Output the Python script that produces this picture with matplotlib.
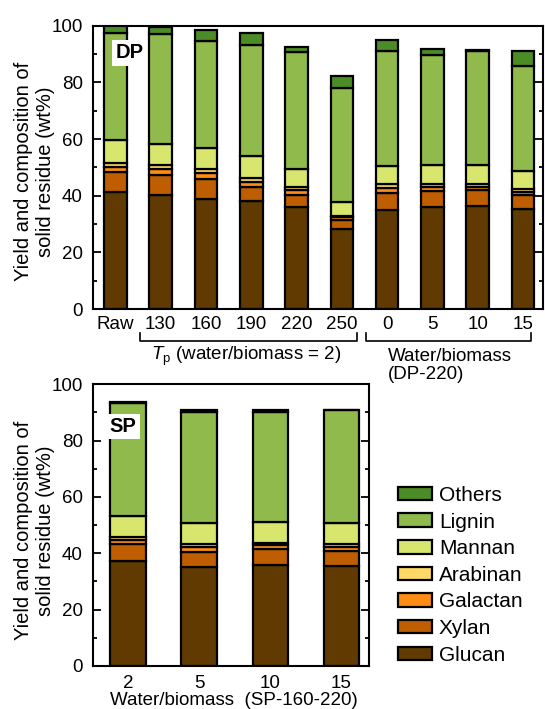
import matplotlib
matplotlib.use("Agg")
import matplotlib.pyplot as plt
import matplotlib.transforms as mtransforms
import numpy as np

plt.rcParams['font.family'] = ['Liberation Sans', 'DejaVu Sans']
plt.rcParams['mathtext.fontset'] = 'custom'
plt.rcParams['mathtext.rm'] = 'Liberation Sans'
plt.rcParams['mathtext.it'] = 'Liberation Sans:italic'
plt.rcParams['font.size'] = 13.5

components = ['Glucan', 'Xylan', 'Galactan', 'Arabinan', 'Mannan', 'Lignin', 'Others']
colors = ['#603A00', '#BE5E00', '#FF8C14', '#FFD966', '#D9E66E', '#90BA4C', '#4B8C26']

# Top panel (DP)
dp_labels = ['Raw', '130', '160', '190', '220', '250', '0', '5', '10', '15']
dp_glucan   = [41.4, 40.2, 38.8, 38.1, 35.9, 28.1, 34.9, 36.0, 36.4, 35.2]
dp_xylan    = [7.1, 7.1, 7.1, 5.1, 4.4, 3.4, 6.2, 5.7, 5.5, 5.0]
dp_galactan = [1.7, 2.1, 2.0, 1.7, 1.6, 0.9, 1.7, 1.4, 1.3, 1.2]
dp_arabinan = [1.2, 1.4, 1.4, 1.4, 1.1, 0.5, 1.2, 1.1, 1.0, 1.1]
dp_mannan   = [8.3, 7.4, 7.6, 7.6, 6.4, 4.7, 6.5, 6.7, 6.5, 6.2]
dp_lignin   = [37.6, 39.0, 37.7, 39.4, 41.4, 40.4, 40.5, 38.8, 40.5, 37.0]
dp_others   = [2.8, 2.5, 3.8, 4.2, 1.6, 4.1, 4.0, 2.1, 0.3, 5.3]

# Bottom panel (SP)
sp_labels = ['2', '5', '10', '15']
sp_glucan   = [37.3, 35.3, 35.9, 35.4]
sp_xylan    = [6.0, 5.2, 5.5, 5.4]
sp_galactan = [1.4, 1.6, 1.6, 1.5]
sp_arabinan = [1.2, 1.1, 0.8, 1.0]
sp_mannan   = [7.3, 7.6, 7.3, 7.5]
sp_lignin   = [40.0, 39.4, 39.1, 40.1]
sp_others   = [0.4, 0.8, 0.8, 0.1]

dp_series = [dp_glucan, dp_xylan, dp_galactan, dp_arabinan, dp_mannan, dp_lignin, dp_others]
sp_series = [sp_glucan, sp_xylan, sp_galactan, sp_arabinan, sp_mannan, sp_lignin, sp_others]

fig = plt.figure(figsize=(5.45, 7.09), dpi=100)
W, H = 545, 709
ax1 = fig.add_axes([92.7 / W, 1 - 309 / H, (543 - 92.7) / W, (309 - 25.7) / H])
ax2 = fig.add_axes([92.7 / W, 1 - 666 / H, (369 - 92.7) / W, (666 - 384.3) / H])


def stack(ax, labels, series):
    x = np.arange(len(labels))
    bottom = np.zeros(len(labels))
    handles = []
    for name, vals, c in zip(components, series, colors):
        vals = np.array(vals)
        h = ax.bar(x, vals, 0.5, bottom=bottom, color=c, edgecolor='black',
                   linewidth=1.6, label=name, zorder=2)
        handles.append(h)
        bottom += vals
    return x, handles


def style(ax, xlim, labels, pad, lab_x, lab_y):
    ax.set_ylim(0, 100)
    ax.set_xlim(*xlim)
    ax.set_yticks(np.arange(0, 101, 20))
    ax.set_yticks(np.arange(10, 100, 20), minor=True)
    ax.tick_params(axis='y', which='both', direction='in', left=True, right=True,
                   width=1.3, labelsize=13.5, pad=7)
    ax.tick_params(axis='y', which='major', length=6)
    ax.tick_params(axis='y', which='minor', length=3)
    ax.set_xticks(np.arange(len(labels)))
    ax.set_xticklabels(labels)
    ax.tick_params(axis='x', length=0, labelsize=13.5, pad=pad)
    for s in ax.spines.values():
        s.set_linewidth(1.5)
    ax.set_ylabel('Yield and composition of\nsolid residue (wt%)', fontsize=14.5,
                  linespacing=1.2)
    ax.yaxis.set_label_coords(lab_x, lab_y)


x1, _ = stack(ax1, dp_labels, dp_series)
style(ax1, (-0.5, 9.44), dp_labels, 5, (55 - 92.7) / 450.3, 0.485)
x2, handles = stack(ax2, sp_labels, sp_series)
style(ax2, (-0.5, 3.39), sp_labels, 6.5, (55 - 92.7) / 276.3, 0.48)

ax1.text(0.32, 90.4, 'DP', fontsize=14.5, fontweight='bold', ha='center', va='center',
         bbox=dict(facecolor='white', edgecolor='none', pad=2.5), zorder=5)
ax2.text(-0.07, 85, 'SP', fontsize=14.5, fontweight='bold', ha='center', va='center',
         bbox=dict(facecolor='white', edgecolor='none', pad=2.5), zorder=5)

# brackets under the top panel
tr = mtransforms.blended_transform_factory(ax1.transData, ax1.transAxes)
for a, b in [(0.55, 5.34), (5.53, 9.18)]:
    ax1.plot([a, a, b, b], [-0.084, -0.112, -0.112, -0.084], color='black', lw=1.2,
             transform=tr, clip_on=False)
ax1.text(2.9, -0.169, r'$T_\mathrm{p}$ (water/biomass = 2)', transform=tr,
         ha='center', va='center', fontsize=13.5)
ax1.text(6.02, -0.2, 'Water/biomass\n(DP-220)', transform=tr, ha='left', va='center',
         fontsize=13.5, linespacing=1.05)

tr2 = mtransforms.blended_transform_factory(ax2.transData, ax2.transAxes)
ax2.text(1.49, -0.121, 'Water/biomass  (SP-160-220)', transform=tr2, ha='center',
         va='center', fontsize=13.5)

fig.legend(handles[::-1], components[::-1], loc='upper left',
           bbox_to_anchor=(397.7 / W, 1 - 486 / H), frameon=False, fontsize=15,
           handlelength=1.63, handleheight=0.625, handletextpad=0.35,
           labelspacing=0.365, borderpad=0, borderaxespad=0)

fig.savefig('out.png', dpi=100)
